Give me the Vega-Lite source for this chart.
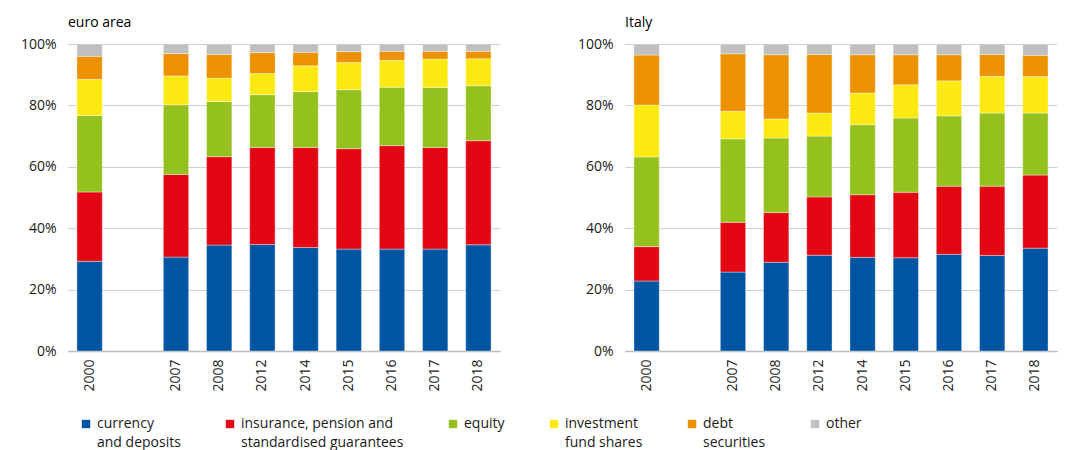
{
  "$schema": "https://vega.github.io/schema/vega-lite/v6.json",
  "padding": {"left": 20, "top": 16, "right": 5, "bottom": 0},
  "background": "white",
  "config": {
    "font": "Open Sans",
    "view": {"stroke": null},
    "concat": {"spacing": 77},
    "style": {"guide-label": {"lineHeight": 19}},
    "title": {"fontSize": 14, "fontWeight": "normal", "color": "#000000", "anchor": "start", "frame": "group", "offset": 7, "font": "Open Sans"},
    "axis": {"labelFont": "Open Sans", "labelFontSize": 14, "labelColor": "#1a1a1a"}
  },
  "datasets": {
    "shares": [
      {"area": "euro area", "year": "2000", "instrument": "currency and deposits", "value": 29.2},
      {"area": "euro area", "year": "2000", "instrument": "insurance, pension and standardised guarantees", "value": 22.6},
      {"area": "euro area", "year": "2000", "instrument": "equity", "value": 24.9},
      {"area": "euro area", "year": "2000", "instrument": "investment fund shares", "value": 11.8},
      {"area": "euro area", "year": "2000", "instrument": "debt securities", "value": 7.5},
      {"area": "euro area", "year": "2000", "instrument": "other", "value": 4.0},
      {"area": "euro area", "year": "2007", "instrument": "currency and deposits", "value": 30.6},
      {"area": "euro area", "year": "2007", "instrument": "insurance, pension and standardised guarantees", "value": 26.9},
      {"area": "euro area", "year": "2007", "instrument": "equity", "value": 22.7},
      {"area": "euro area", "year": "2007", "instrument": "investment fund shares", "value": 9.4},
      {"area": "euro area", "year": "2007", "instrument": "debt securities", "value": 7.3},
      {"area": "euro area", "year": "2007", "instrument": "other", "value": 3.1},
      {"area": "euro area", "year": "2008", "instrument": "currency and deposits", "value": 34.5},
      {"area": "euro area", "year": "2008", "instrument": "insurance, pension and standardised guarantees", "value": 28.8},
      {"area": "euro area", "year": "2008", "instrument": "equity", "value": 18.0},
      {"area": "euro area", "year": "2008", "instrument": "investment fund shares", "value": 7.6},
      {"area": "euro area", "year": "2008", "instrument": "debt securities", "value": 7.7},
      {"area": "euro area", "year": "2008", "instrument": "other", "value": 3.4},
      {"area": "euro area", "year": "2012", "instrument": "currency and deposits", "value": 34.7},
      {"area": "euro area", "year": "2012", "instrument": "insurance, pension and standardised guarantees", "value": 31.6},
      {"area": "euro area", "year": "2012", "instrument": "equity", "value": 17.2},
      {"area": "euro area", "year": "2012", "instrument": "investment fund shares", "value": 6.9},
      {"area": "euro area", "year": "2012", "instrument": "debt securities", "value": 6.8},
      {"area": "euro area", "year": "2012", "instrument": "other", "value": 2.8},
      {"area": "euro area", "year": "2014", "instrument": "currency and deposits", "value": 33.7},
      {"area": "euro area", "year": "2014", "instrument": "insurance, pension and standardised guarantees", "value": 32.6},
      {"area": "euro area", "year": "2014", "instrument": "equity", "value": 18.2},
      {"area": "euro area", "year": "2014", "instrument": "investment fund shares", "value": 8.4},
      {"area": "euro area", "year": "2014", "instrument": "debt securities", "value": 4.4},
      {"area": "euro area", "year": "2014", "instrument": "other", "value": 2.7},
      {"area": "euro area", "year": "2015", "instrument": "currency and deposits", "value": 33.2},
      {"area": "euro area", "year": "2015", "instrument": "insurance, pension and standardised guarantees", "value": 32.7},
      {"area": "euro area", "year": "2015", "instrument": "equity", "value": 19.2},
      {"area": "euro area", "year": "2015", "instrument": "investment fund shares", "value": 8.9},
      {"area": "euro area", "year": "2015", "instrument": "debt securities", "value": 3.5},
      {"area": "euro area", "year": "2015", "instrument": "other", "value": 2.5},
      {"area": "euro area", "year": "2016", "instrument": "currency and deposits", "value": 33.2},
      {"area": "euro area", "year": "2016", "instrument": "insurance, pension and standardised guarantees", "value": 33.7},
      {"area": "euro area", "year": "2016", "instrument": "equity", "value": 19.0},
      {"area": "euro area", "year": "2016", "instrument": "investment fund shares", "value": 8.8},
      {"area": "euro area", "year": "2016", "instrument": "debt securities", "value": 2.9},
      {"area": "euro area", "year": "2016", "instrument": "other", "value": 2.4},
      {"area": "euro area", "year": "2017", "instrument": "currency and deposits", "value": 33.2},
      {"area": "euro area", "year": "2017", "instrument": "insurance, pension and standardised guarantees", "value": 33.1},
      {"area": "euro area", "year": "2017", "instrument": "equity", "value": 19.5},
      {"area": "euro area", "year": "2017", "instrument": "investment fund shares", "value": 9.3},
      {"area": "euro area", "year": "2017", "instrument": "debt securities", "value": 2.5},
      {"area": "euro area", "year": "2017", "instrument": "other", "value": 2.4},
      {"area": "euro area", "year": "2018", "instrument": "currency and deposits", "value": 34.6},
      {"area": "euro area", "year": "2018", "instrument": "insurance, pension and standardised guarantees", "value": 33.9},
      {"area": "euro area", "year": "2018", "instrument": "equity", "value": 17.9},
      {"area": "euro area", "year": "2018", "instrument": "investment fund shares", "value": 8.8},
      {"area": "euro area", "year": "2018", "instrument": "debt securities", "value": 2.4},
      {"area": "euro area", "year": "2018", "instrument": "other", "value": 2.4},
      {"area": "Italy", "year": "2000", "instrument": "currency and deposits", "value": 22.8},
      {"area": "Italy", "year": "2000", "instrument": "insurance, pension and standardised guarantees", "value": 11.2},
      {"area": "Italy", "year": "2000", "instrument": "equity", "value": 29.2},
      {"area": "Italy", "year": "2000", "instrument": "investment fund shares", "value": 16.9},
      {"area": "Italy", "year": "2000", "instrument": "debt securities", "value": 16.3},
      {"area": "Italy", "year": "2000", "instrument": "other", "value": 3.6},
      {"area": "Italy", "year": "2007", "instrument": "currency and deposits", "value": 25.7},
      {"area": "Italy", "year": "2007", "instrument": "insurance, pension and standardised guarantees", "value": 16.2},
      {"area": "Italy", "year": "2007", "instrument": "equity", "value": 27.2},
      {"area": "Italy", "year": "2007", "instrument": "investment fund shares", "value": 9.0},
      {"area": "Italy", "year": "2007", "instrument": "debt securities", "value": 18.7},
      {"area": "Italy", "year": "2007", "instrument": "other", "value": 3.2},
      {"area": "Italy", "year": "2008", "instrument": "currency and deposits", "value": 28.9},
      {"area": "Italy", "year": "2008", "instrument": "insurance, pension and standardised guarantees", "value": 16.2},
      {"area": "Italy", "year": "2008", "instrument": "equity", "value": 24.3},
      {"area": "Italy", "year": "2008", "instrument": "investment fund shares", "value": 6.2},
      {"area": "Italy", "year": "2008", "instrument": "debt securities", "value": 20.9},
      {"area": "Italy", "year": "2008", "instrument": "other", "value": 3.5},
      {"area": "Italy", "year": "2012", "instrument": "currency and deposits", "value": 31.2},
      {"area": "Italy", "year": "2012", "instrument": "insurance, pension and standardised guarantees", "value": 19.0},
      {"area": "Italy", "year": "2012", "instrument": "equity", "value": 19.8},
      {"area": "Italy", "year": "2012", "instrument": "investment fund shares", "value": 7.5},
      {"area": "Italy", "year": "2012", "instrument": "debt securities", "value": 19.1},
      {"area": "Italy", "year": "2012", "instrument": "other", "value": 3.4},
      {"area": "Italy", "year": "2014", "instrument": "currency and deposits", "value": 30.5},
      {"area": "Italy", "year": "2014", "instrument": "insurance, pension and standardised guarantees", "value": 20.4},
      {"area": "Italy", "year": "2014", "instrument": "equity", "value": 22.8},
      {"area": "Italy", "year": "2014", "instrument": "investment fund shares", "value": 10.3},
      {"area": "Italy", "year": "2014", "instrument": "debt securities", "value": 12.5},
      {"area": "Italy", "year": "2014", "instrument": "other", "value": 3.5},
      {"area": "Italy", "year": "2015", "instrument": "currency and deposits", "value": 30.4},
      {"area": "Italy", "year": "2015", "instrument": "insurance, pension and standardised guarantees", "value": 21.3},
      {"area": "Italy", "year": "2015", "instrument": "equity", "value": 24.2},
      {"area": "Italy", "year": "2015", "instrument": "investment fund shares", "value": 10.8},
      {"area": "Italy", "year": "2015", "instrument": "debt securities", "value": 9.8},
      {"area": "Italy", "year": "2015", "instrument": "other", "value": 3.5},
      {"area": "Italy", "year": "2016", "instrument": "currency and deposits", "value": 31.5},
      {"area": "Italy", "year": "2016", "instrument": "insurance, pension and standardised guarantees", "value": 22.2},
      {"area": "Italy", "year": "2016", "instrument": "equity", "value": 22.9},
      {"area": "Italy", "year": "2016", "instrument": "investment fund shares", "value": 11.4},
      {"area": "Italy", "year": "2016", "instrument": "debt securities", "value": 8.5},
      {"area": "Italy", "year": "2016", "instrument": "other", "value": 3.5},
      {"area": "Italy", "year": "2017", "instrument": "currency and deposits", "value": 31.1},
      {"area": "Italy", "year": "2017", "instrument": "insurance, pension and standardised guarantees", "value": 22.6},
      {"area": "Italy", "year": "2017", "instrument": "equity", "value": 23.8},
      {"area": "Italy", "year": "2017", "instrument": "investment fund shares", "value": 12.0},
      {"area": "Italy", "year": "2017", "instrument": "debt securities", "value": 7.1},
      {"area": "Italy", "year": "2017", "instrument": "other", "value": 3.4},
      {"area": "Italy", "year": "2018", "instrument": "currency and deposits", "value": 33.5},
      {"area": "Italy", "year": "2018", "instrument": "insurance, pension and standardised guarantees", "value": 23.8},
      {"area": "Italy", "year": "2018", "instrument": "equity", "value": 20.2},
      {"area": "Italy", "year": "2018", "instrument": "investment fund shares", "value": 11.9},
      {"area": "Italy", "year": "2018", "instrument": "debt securities", "value": 6.9},
      {"area": "Italy", "year": "2018", "instrument": "other", "value": 3.7}
    ]
  },
  "data": {"name": "shares"},
  "transform": [{"calculate": "indexof(['currency and deposits', 'insurance, pension and standardised guarantees', 'equity', 'investment fund shares', 'debt securities', 'other'], datum.instrument)", "as": "stackOrder"}],
  "hconcat": [
    {
      "title": "euro area",
      "width": 432,
      "height": 307,
      "transform": [{"filter": "datum.area == 'euro area'"}],
      "mark": {"type": "bar", "stroke": "white", "strokeWidth": 0.6, "strokeOpacity": 0.6},
      "encoding": {
        "x": {
          "field": "year", "type": "nominal", "title": null,
          "scale": {"domain": ["2000", " ", "2007", "2008", "2012", "2014", "2015", "2016", "2017", "2018"], "paddingInner": 0.414, "paddingOuter": 0.207},
          "axis": {"labelAngle": -90, "ticks": false, "domainColor": "#bdbdbd", "domainWidth": 1.5, "labelPadding": 8, "labelAlign": "right", "labelBaseline": "middle"}
        },
        "y": {
          "field": "value", "type": "quantitative", "title": null, "stack": "zero",
          "scale": {"domain": [0, 100], "nice": false},
          "axis": {"values": [0, 20, 40, 60, 80, 100], "labelExpr": "datum.value + '%'", "ticks": false, "domain": false, "gridColor": "#cfcfcf", "gridWidth": 1.2, "labelPadding": 12}
        },
        "order": {"field": "stackOrder", "type": "quantitative", "sort": "ascending"},
        "color": {
          "field": "instrument", "type": "nominal",
          "scale": {
            "domain": ["currency and deposits", "insurance, pension and standardised guarantees", "equity", "investment fund shares", "debt securities", "other"],
            "range": ["#0055A2", "#E30613", "#95C11F", "#FDE912", "#EC9200", "#C0C0C0"]
          },
          "legend": {
            "title": null, "orient": "none", "legendX": 11, "legendY": 373, "direction": "horizontal", "columns": 6,
            "symbolType": "square", "symbolSize": 70, "symbolStrokeWidth": 0,
            "labelFontSize": 14, "labelFont": "Open Sans", "labelColor": "#1a1a1a", "labelLimit": 300,
            "columnPadding": 42,
            "labelExpr": "datum.label == 'currency and deposits' ? ['currency', 'and deposits'] : datum.label == 'insurance, pension and standardised guarantees' ? ['insurance, pension and', 'standardised guarantees'] : datum.label == 'investment fund shares' ? ['investment', 'fund shares'] : datum.label == 'debt securities' ? ['debt', 'securities'] : [datum.label, ' ']"
          }
        }
      }
    },
    {
      "title": "Italy",
      "width": 432,
      "height": 307,
      "transform": [{"filter": "datum.area == 'Italy'"}],
      "mark": {"type": "bar", "stroke": "white", "strokeWidth": 0.6, "strokeOpacity": 0.6},
      "encoding": {
        "x": {
          "field": "year", "type": "nominal", "title": null,
          "scale": {"domain": ["2000", " ", "2007", "2008", "2012", "2014", "2015", "2016", "2017", "2018"], "paddingInner": 0.414, "paddingOuter": 0.207},
          "axis": {"labelAngle": -90, "ticks": false, "domainColor": "#bdbdbd", "domainWidth": 1.5, "labelPadding": 8, "labelAlign": "right", "labelBaseline": "middle"}
        },
        "y": {
          "field": "value", "type": "quantitative", "title": null, "stack": "zero",
          "scale": {"domain": [0, 100], "nice": false},
          "axis": {"values": [0, 20, 40, 60, 80, 100], "labelExpr": "datum.value + '%'", "ticks": false, "domain": false, "gridColor": "#cfcfcf", "gridWidth": 1.2, "labelPadding": 12}
        },
        "order": {"field": "stackOrder", "type": "quantitative", "sort": "ascending"},
        "color": {
          "field": "instrument", "type": "nominal",
          "scale": {
            "domain": ["currency and deposits", "insurance, pension and standardised guarantees", "equity", "investment fund shares", "debt securities", "other"],
            "range": ["#0055A2", "#E30613", "#95C11F", "#FDE912", "#EC9200", "#C0C0C0"]
          }
        }
      }
    }
  ]
}
